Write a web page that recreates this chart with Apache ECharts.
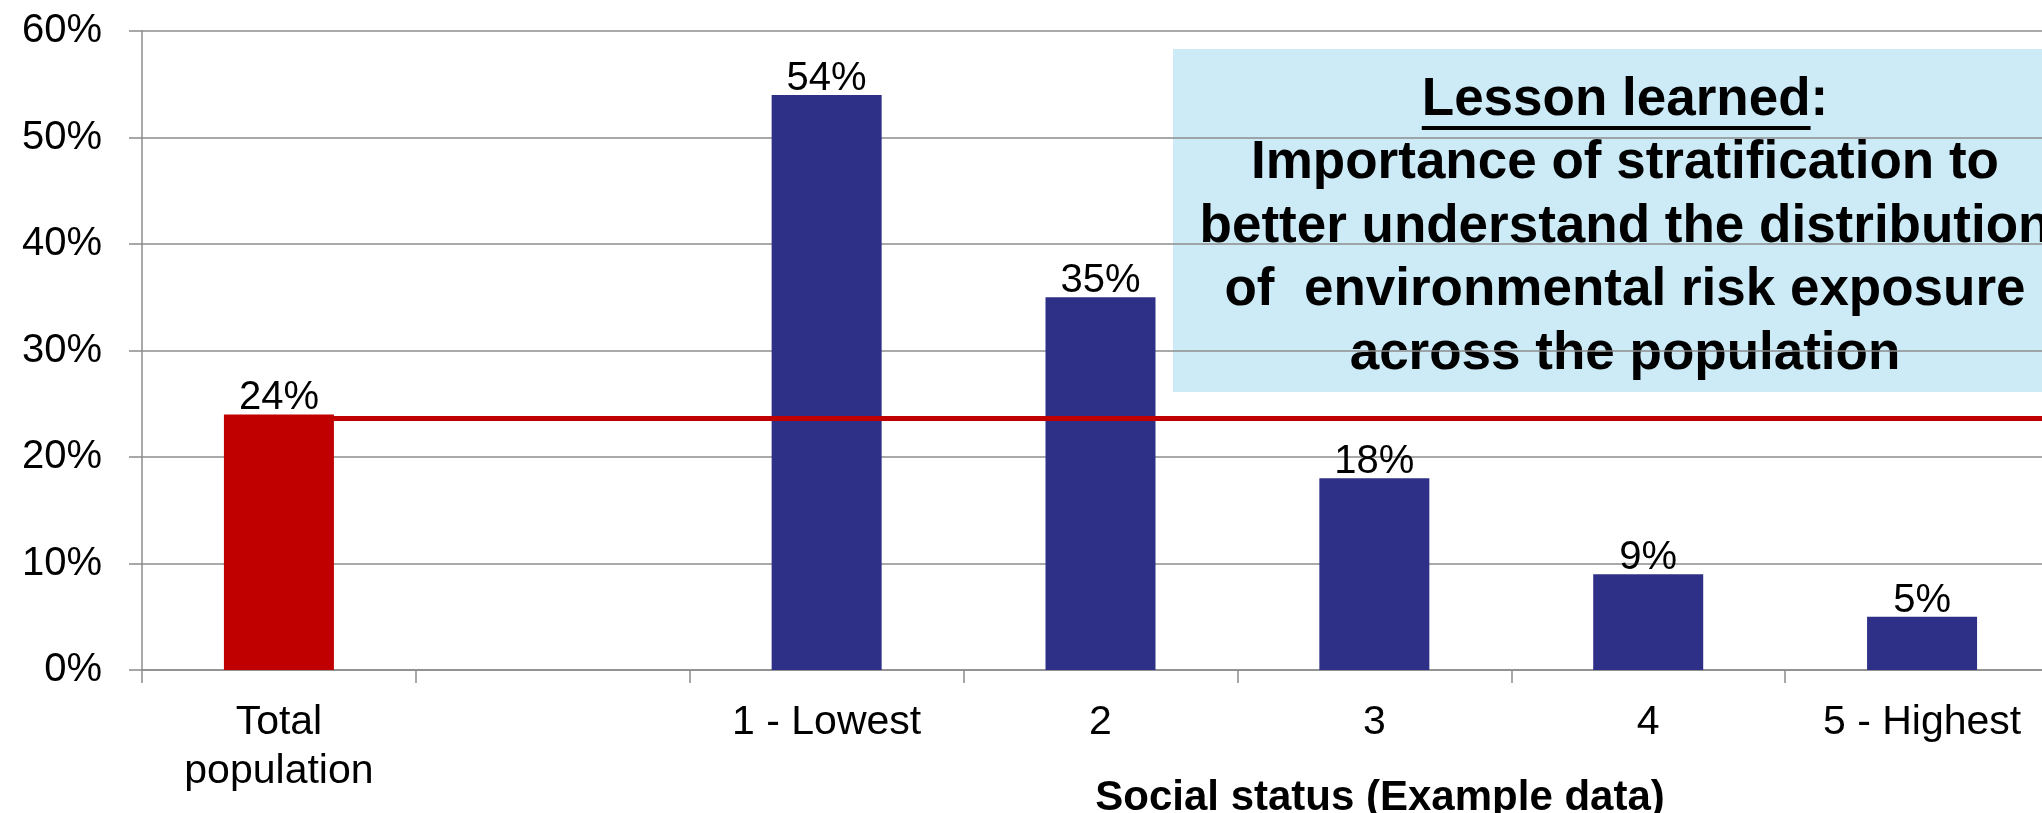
<!DOCTYPE html>
<html>
<head>
<meta charset="utf-8">
<script src="https://cdn.jsdelivr.net/npm/echarts@6/dist/echarts.min.js"></script>
<style>
  html, body { margin: 0; padding: 0; background: #ffffff; }
  #chart { width: 2042px; height: 813px; }
</style>
</head>
<body>
<div id="chart"></div>
<script>
// Share of population exposed, by social status group
const categories = ['Total\npopulation', '', '1 - Lowest', '2', '3', '4', '5 - Highest'];
const exposure = [24, null, 54, 35, 18, 9, 5];
const groupKind = ['total', 'gap', 'strata', 'strata', 'strata', 'strata', 'strata'];
const populationLevel = 23.6;
const yMin = 0, yMax = 60, yStep = 10;
const axisTitle = 'Social status (Example data)';
const lessonHeading = 'Lesson learned';
const lessonBody = [
  'Importance of stratification to',
  'better understand the distribution',
  'of  environmental risk exposure',
  'across the population'
];

const FONT = '"Liberation Sans", Arial, Helvetica, sans-serif';
const RED = '#C00000';
const BLUE = '#2E3088';
const GRID = '#8C8C8C';
const kindColor = { total: RED, strata: BLUE, gap: BLUE };

const barData = exposure.map((v, i) => ({
  value: v,
  itemStyle: { color: kindColor[groupKind[i]] }
}));

// Callout box text metrics (used to place the heading underline)
const boxFont = 'bold 53px ' + FONT;
const boxCenterX = 1625, boxCenterY = 227, boxLineH = 63.5;
const measureCtx = document.createElement('canvas').getContext('2d');
measureCtx.font = boxFont;
const headFullW = measureCtx.measureText(lessonHeading + ':').width;
const headW = measureCtx.measureText(lessonHeading).width;
const nLines = lessonBody.length + 1;
const headBaseline = boxCenterY - (nLines - 1) / 2 * boxLineH + 0.36 * 53;
const ulX1 = boxCenterX - headFullW / 2;

const chart = echarts.init(document.getElementById('chart'), null, { renderer: 'canvas' });

chart.setOption({
  animation: false,
  backgroundColor: '#ffffff',
  textStyle: { fontFamily: FONT },
  grid: { left: 142, top: 31, width: 1917, bottom: 143, containLabel: false, outerBoundsMode: 'none' },
  xAxis: {
    type: 'category',
    data: categories,
    boundaryGap: true,
    axisLine: { show: true, lineStyle: { color: GRID, width: 1.5 } },
    axisTick: { show: true, inside: false, length: 13, alignWithLabel: false, interval: 0,
                lineStyle: { color: GRID, width: 1.5 } },
    axisLabel: { interval: 0, margin: 28, fontSize: 41, lineHeight: 49, color: '#000000',
                 fontFamily: FONT, hideOverlap: false },
    splitLine: { show: false }
  },
  yAxis: {
    type: 'value',
    min: yMin,
    max: yMax,
    interval: yStep,
    axisLine: { show: true, lineStyle: { color: GRID, width: 1.5 } },
    axisTick: { show: true, inside: false, length: 13, lineStyle: { color: GRID, width: 1.5 } },
    axisLabel: { formatter: '{value}%', margin: 40, fontSize: 40, color: '#000000', fontFamily: FONT },
    splitLine: { show: true, lineStyle: { color: GRID, width: 1.5, type: 'solid' } }
  },
  series: [{
    type: 'bar',
    data: barData,
    barWidth: 110,
    label: {
      show: true,
      position: 'top',
      distance: -4,
      formatter: p => p.value + '%',
      fontSize: 40,
      color: '#000000',
      fontFamily: FONT
    },
    markLine: {
      silent: true,
      symbol: ['none', 'none'],
      label: { show: false },
      z: 10,
      lineStyle: { color: RED, width: 5, type: 'solid' },
      emphasis: { disabled: true },
      data: [[
        { coord: [0, populationLevel] },
        { coord: [categories.length - 1, populationLevel], x: '100%' }
      ]]
    }
  }],
  graphic: [
    {
      type: 'text',
      x: 1380,
      y: 798,
      style: {
        text: axisTitle,
        font: 'bold 42px ' + FONT,
        textAlign: 'center',
        textVerticalAlign: 'middle',
        fill: '#000000'
      }
    },
    {
      type: 'group',
      z: 20,
      children: [
        {
          type: 'rect',
          shape: { x: 1173, y: 49, width: 920, height: 343 },
          style: { fill: '#CCEBF7' }
        },
        {
          type: 'text',
          x: boxCenterX,
          y: boxCenterY,
          style: {
            text: lessonHeading + ':\n' + lessonBody.join('\n'),
            font: boxFont,
            lineHeight: boxLineH,
            textAlign: 'center',
            textVerticalAlign: 'middle',
            fill: '#000000'
          }
        },
        {
          type: 'line',
          shape: { x1: ulX1, y1: headBaseline + 9, x2: ulX1 + headW, y2: headBaseline + 9 },
          style: { stroke: '#000000', lineWidth: 4 }
        }
      ]
    }
  ]
});
</script>
</body>
</html>
